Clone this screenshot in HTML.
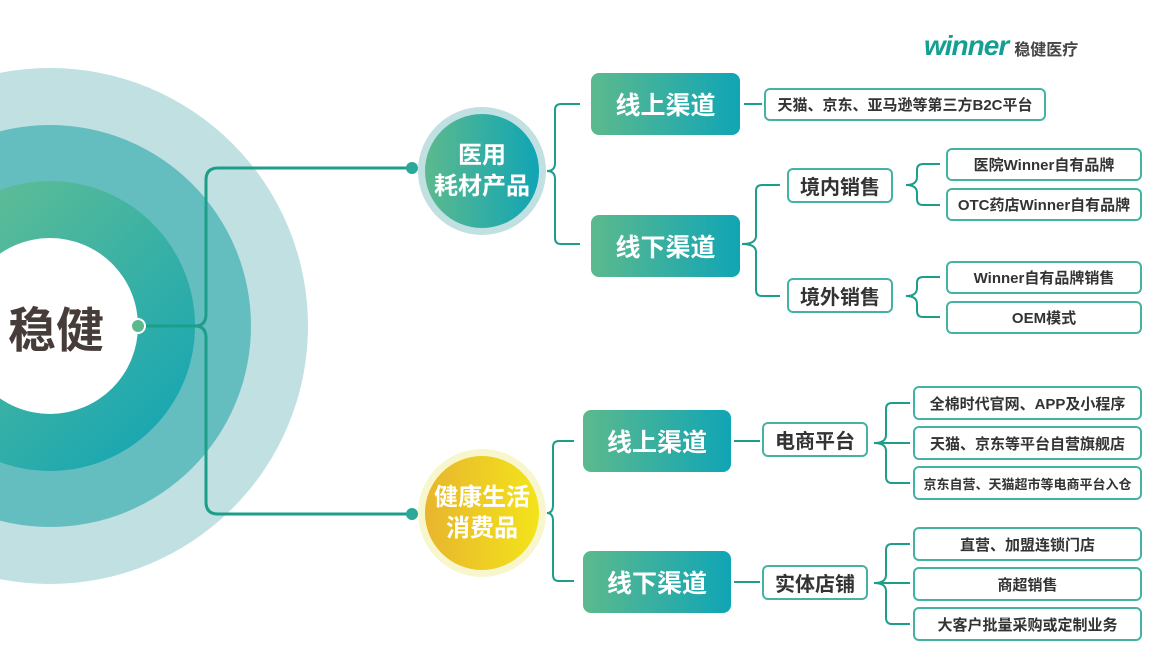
<!DOCTYPE html>
<html><head><meta charset="utf-8"><style>
body{margin:0;width:1156px;height:653px;background:#fff;position:relative;overflow:hidden;font-family:"Liberation Sans","Noto Sans CJK SC",sans-serif;}
.b{position:absolute;box-sizing:border-box;display:flex;align-items:center;justify-content:center;font-weight:bold;}
.g{background:linear-gradient(90deg,#5cb98e,#10a5b5);color:#fff;border-radius:8px;font-size:25px;}
.w{border:2px solid #45b3a3;border-radius:6px;color:#333;background:#fff;}
.m{font-size:20px;}
.s{font-size:15px;}
</style></head><body>
<svg width="1156" height="653" style="position:absolute;left:0;top:0">
<defs>
<linearGradient id="gr" x1="0" y1="0" x2="1" y2="1"><stop offset="0" stop-color="#6cc190"/><stop offset="1" stop-color="#0ea3b6"/></linearGradient>
<linearGradient id="gh" x1="0" y1="0" x2="1" y2="0"><stop offset="0" stop-color="#5cb98e"/><stop offset="1" stop-color="#10a5b5"/></linearGradient>
<linearGradient id="gy" x1="0" y1="0" x2="1" y2="0"><stop offset="0" stop-color="#e8b52e"/><stop offset="1" stop-color="#f3e41a"/></linearGradient>
</defs>
<circle cx="50" cy="326" r="258" fill="#c0e0e2"/>
<circle cx="50" cy="326" r="201" fill="#64bebf"/>
<circle cx="50" cy="326" r="145" fill="url(#gr)"/>
<circle cx="50" cy="326" r="88" fill="#fff"/>
<g fill="none" stroke="#1d9e8a" stroke-width="3">
<path d="M140 326 H195 Q206 326 206 314 V180 Q206 168 218 168 H412"/>
<path d="M195 326 Q206 326 206 338 V502 Q206 514 218 514 H412"/>
</g>
<circle cx="138" cy="326" r="7" fill="#5cb98e" stroke="#fff" stroke-width="2"/>
<circle cx="412" cy="168" r="6" fill="#2aa99a"/>
<circle cx="412" cy="514" r="6" fill="#2aa99a"/>
<circle cx="482" cy="171" r="64" fill="#c0e0e2"/>
<circle cx="482" cy="171" r="57" fill="url(#gh)"/>
<circle cx="482" cy="513" r="64" fill="#f8f6cc"/>
<circle cx="482" cy="513" r="57" fill="url(#gy)"/>
<g fill="none" stroke="#1d9e8a" stroke-width="2">
<path d="M547 171 Q555 171 555 163 V110 Q555 104 561 104 H580"/>
<path d="M547 171 Q555 171 555 179 V238 Q555 244 561 244 H580"/>
<path d="M547 513 Q553 513 553 505 V447 Q553 441 559 441 H574"/>
<path d="M547 513 Q553 513 553 521 V575 Q553 581 559 581 H574"/>
<path d="M744 104 H762"/>
<path d="M742 244 Q756 244 756 236 V191 Q756 185 762 185 H780"/>
<path d="M742 244 Q756 244 756 252 V290 Q756 296 762 296 H780"/>
<path d="M906 185 Q917 185 917 177 V170 Q917 164 923 164 H940"/>
<path d="M906 185 Q917 185 917 193 V199 Q917 205 923 205 H940"/>
<path d="M906 296 Q917 296 917 288 V283 Q917 277 923 277 H940"/>
<path d="M906 296 Q917 296 917 304 V311 Q917 317 923 317 H940"/>
<path d="M734 441 H760"/>
<path d="M734 582 H760"/>
<path d="M874 443 Q886 443 886 435 V409 Q886 403 892 403 H910"/>
<path d="M874 443 H910"/>
<path d="M874 443 Q886 443 886 451 V477 Q886 483 892 483 H910"/>
<path d="M874 583 Q886 583 886 575 V550 Q886 544 892 544 H910"/>
<path d="M874 583 H910"/>
<path d="M874 583 Q886 583 886 591 V618 Q886 624 892 624 H910"/>
</g>
</svg>
<div class="b" style="left:0;top:296px;width:130px;height:60px;font-size:48px;color:#463c39;justify-content:flex-start;padding-left:8px">稳健</div>
<div class="b" style="left:420px;top:136px;width:124px;height:70px;color:#fff;font-size:24px;line-height:31px;text-align:center">医用<br>耗材产品</div>
<div class="b" style="left:420px;top:478px;width:124px;height:70px;color:#fff;font-size:24px;line-height:31px;text-align:center">健康生活<br>消费品</div>
<div style="position:absolute;left:924px;top:30px;font-size:28px;font-weight:bold;font-style:italic;color:#13a092;letter-spacing:-1px">winner<span style="font-size:16px;color:#444;font-style:normal;margin-left:6px;letter-spacing:0">稳健医疗</span></div>
<div class="b g" style="left:591px;top:73px;width:149px;height:62px">线上渠道</div>
<div class="b g" style="left:591px;top:215px;width:149px;height:62px">线下渠道</div>
<div class="b g" style="left:583px;top:410px;width:148px;height:62px">线上渠道</div>
<div class="b g" style="left:583px;top:551px;width:148px;height:62px">线下渠道</div>
<div class="b w s" style="left:764px;top:88px;width:282px;height:33px">天猫、京东、亚马逊等第三方B2C平台</div>
<div class="b w m" style="left:787px;top:168px;width:106px;height:35px">境内销售</div>
<div class="b w m" style="left:787px;top:278px;width:106px;height:35px">境外销售</div>
<div class="b w s" style="left:946px;top:148px;width:196px;height:33px">医院Winner自有品牌</div>
<div class="b w s" style="left:946px;top:188px;width:196px;height:33px">OTC药店Winner自有品牌</div>
<div class="b w s" style="left:946px;top:261px;width:196px;height:33px">Winner自有品牌销售</div>
<div class="b w s" style="left:946px;top:301px;width:196px;height:33px">OEM模式</div>
<div class="b w m" style="left:762px;top:422px;width:106px;height:35px">电商平台</div>
<div class="b w m" style="left:762px;top:565px;width:106px;height:35px">实体店铺</div>
<div class="b w s" style="left:913px;top:386px;width:229px;height:34px">全棉时代官网、APP及小程序</div>
<div class="b w s" style="left:913px;top:426px;width:229px;height:34px">天猫、京东等平台自营旗舰店</div>
<div class="b w" style="left:913px;top:466px;width:229px;height:34px;font-size:13px">京东自营、天猫超市等电商平台入仓</div>
<div class="b w s" style="left:913px;top:527px;width:229px;height:34px">直营、加盟连锁门店</div>
<div class="b w s" style="left:913px;top:567px;width:229px;height:34px">商超销售</div>
<div class="b w s" style="left:913px;top:607px;width:229px;height:34px">大客户批量采购或定制业务</div>
</body></html>
